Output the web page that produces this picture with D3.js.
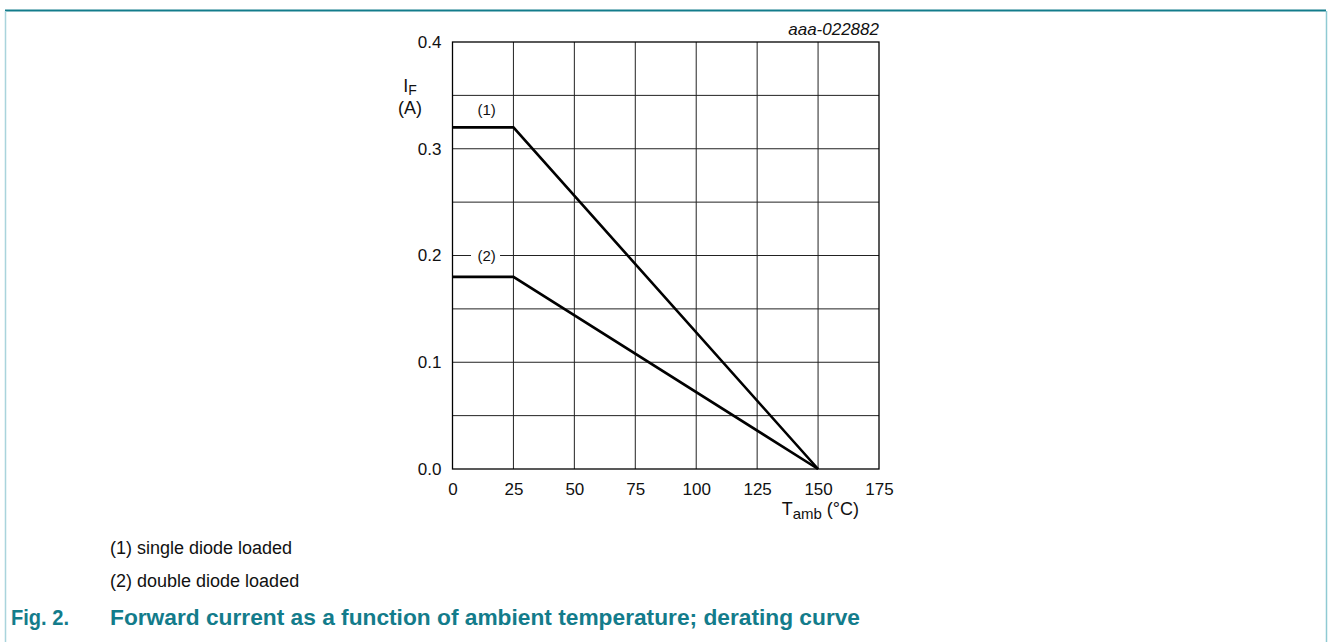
<!DOCTYPE html>
<html>
<head>
<meta charset="utf-8">
<script src="https://cdn.jsdelivr.net/npm/d3@7"></script>
<style>
  body { margin: 0; background: #fff; }
  svg { display: block; font-family: "Liberation Sans", Arial, sans-serif; }
</style>
</head>
<body>
<svg id="svg" width="1328" height="642"></svg>
<script>
// derating curves
var tamb = [0, 25, 150];
var single = [0.32, 0.32, 0];   // (1) single diode loaded
var double = [0.18, 0.18, 0];   // (2) double diode loaded
var xTicks = [0, 25, 50, 75, 100, 125, 150, 175];
var yTicks = [0, 0.1, 0.2, 0.3, 0.4];
var xGrid = [25, 50, 75, 100, 125, 150];
var yGrid = [0.05, 0.1, 0.15, 0.2, 0.25, 0.3, 0.35];
var notes = ["(1) single diode loaded", "(2) double diode loaded"];

var svg = d3.select("#svg");

// page frame
svg.append("line").attr("x1", 5).attr("x2", 1326).attr("y1", 10.5).attr("y2", 10.5)
  .attr("stroke", "#137c8b").attr("stroke-width", 2);
svg.append("line").attr("x1", 5.5).attr("x2", 5.5).attr("y1", 11).attr("y2", 642)
  .attr("stroke", "#a9d4dc").attr("stroke-width", 1.5);
svg.append("line").attr("x1", 1326.5).attr("x2", 1326.5).attr("y1", 11).attr("y2", 642)
  .attr("stroke", "#8fcad3").attr("stroke-width", 1.5);

var x = d3.scaleLinear().domain([0, 175]).range([452.5, 879]);
var y = d3.scaleLinear().domain([0, 0.4]).range([469, 42]);

var g = svg.append("g");

// grid
g.selectAll("line.vg").data(xGrid).enter().append("line")
  .attr("x1", function(d) { return x(d); })
  .attr("x2", function(d) { return x(d); })
  .attr("y1", y(0)).attr("y2", y(0.4))
  .attr("stroke", "#222").attr("stroke-width", 1);
g.selectAll("line.hg").data(yGrid).enter().append("line")
  .attr("x1", x(0)).attr("x2", x(175))
  .attr("y1", function(d) { return y(d); })
  .attr("y2", function(d) { return y(d); })
  .attr("stroke", "#222").attr("stroke-width", 1);

// frame
g.append("rect").attr("x", x(0)).attr("y", y(0.4))
  .attr("width", x(175) - x(0)).attr("height", y(0) - y(0.4))
  .attr("fill", "none").attr("stroke", "#000").attr("stroke-width", 1.3);

// axes (labels only)
var xAxis = g.append("g").attr("transform", "translate(0," + y(0) + ")")
  .call(d3.axisBottom(x).tickValues(xTicks).tickSize(0).tickPadding(14).tickFormat(d3.format("d")));
var yAxis = g.append("g").attr("transform", "translate(" + x(0) + ",0)")
  .call(d3.axisLeft(y).tickValues(yTicks).tickSize(0).tickPadding(11).tickFormat(d3.format(".1f")));
[xAxis, yAxis].forEach(function(a) {
  a.select(".domain").remove();
  a.selectAll("text").attr("font-size", 17).attr("fill", "#111")
    .attr("font-family", "Liberation Sans, Arial, sans-serif");
});

// curves
var line = d3.line()
  .x(function(d) { return x(d[0]); })
  .y(function(d) { return y(d[1]); });
[single, double].forEach(function(s) {
  g.append("path").datum(d3.zip(tamb, s)).attr("d", line)
    .attr("fill", "none").attr("stroke", "#000").attr("stroke-width", 2.6)
    .attr("stroke-linejoin", "miter");
});

// curve labels
var lab = [["(1)", 0.337], ["(2)", 0.2]];
lab.forEach(function(l) {
  g.append("rect").attr("x", x(7.6)).attr("y", y(l[1]) - 12)
    .attr("width", 29).attr("height", 24).attr("fill", "#fff");
  g.append("text").attr("x", x(14)).attr("y", y(l[1]) + 5.5)
    .attr("text-anchor", "middle").attr("font-size", 15).attr("fill", "#111")
    .text(l[0]);
});

// axis titles
var yt = g.append("text").attr("x", 410).attr("y", 92).attr("text-anchor", "middle")
  .attr("font-size", 18).attr("fill", "#111");
yt.append("tspan").text("I");
yt.append("tspan").attr("font-size", 14).attr("dy", 3).text("F");
g.append("text").attr("x", 410).attr("y", 114).attr("text-anchor", "middle")
  .attr("font-size", 18).attr("fill", "#111").text("(A)");

var xt = g.append("text").attr("x", 859).attr("y", 515).attr("text-anchor", "end")
  .attr("font-size", 18).attr("fill", "#111");
xt.append("tspan").text("T");
xt.append("tspan").attr("font-size", 15).attr("dy", 4).text("amb");
xt.append("tspan").attr("dy", -4).text(" (\u00B0C)");

g.append("text").attr("x", x(175)).attr("y", 35).attr("text-anchor", "end")
  .attr("font-size", 17).attr("font-style", "italic").attr("fill", "#111")
  .text("aaa-022882");

// notes
svg.selectAll("text.note").data(notes).enter().append("text")
  .attr("x", 110)
  .attr("y", function(d, i) { return 554 + i * 33; })
  .attr("font-size", 18).attr("fill", "#111")
  .text(function(d) { return d; });

// caption
var cap = svg.append("text").attr("y", 625).attr("font-size", 22)
  .attr("font-weight", "bold").attr("fill", "#137c8b");
cap.append("tspan").attr("x", 11).attr("textLength", 58)
  .attr("lengthAdjust", "spacingAndGlyphs").text("Fig. 2.");
cap.append("tspan").attr("x", 110).attr("textLength", 750)
  .attr("lengthAdjust", "spacingAndGlyphs")
  .text("Forward current as a function of ambient temperature; derating curve");
</script>
</body>
</html>
